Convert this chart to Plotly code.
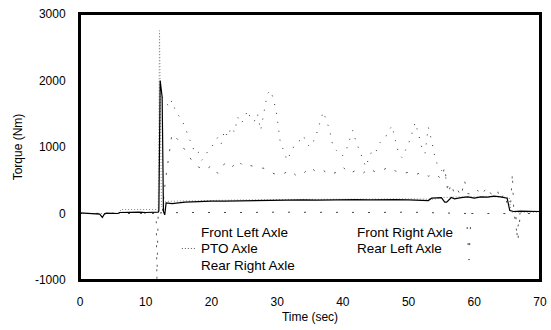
import plotly.graph_objects as go

# ---------------- data ----------------
fl_t = [0, 1, 2, 3, 3.4, 3.7, 4, 5, 5.8, 6, 7, 8, 9, 10, 11, 11.9, 12.0, 12.2, 12.5, 12.7, 12.9, 13.1,
        14, 15, 16, 17, 18, 20, 22, 24, 26, 28, 30, 32, 34, 36, 38, 40, 42, 44, 46, 48, 50, 52, 53,
        53.5, 55, 55.5, 55.8, 56.5, 57, 58, 59, 60, 61, 62, 63, 64, 65, 65.4, 66, 67, 68, 70]
fl_v = [10, 5, 0, -10, -60, -10, 5, 0, 0, 15, 20, 15, 20, 15, 20, 20, 40, 2000, 1750, 30, -20, 160,
        150, 165, 170, 175, 180, 185, 185, 190, 195, 195, 200, 200, 205, 200, 205, 210, 210, 205, 210,
        210, 205, 200, 195, 230, 240, 170, 170, 240, 220, 240, 250, 230, 250, 245, 260, 250, 230, 45,
        30, 35, 30, 30]

fr_t = [12.5, 13, 13.5, 14, 14.5, 15, 15.5, 16, 16.5, 17, 17.5, 18, 18.5, 19, 19.5, 20, 20.5, 21,
        21.5, 22, 22.5, 23, 23.5, 24, 24.5, 25, 25.5, 26, 26.5, 27, 27.5, 28, 28.5, 29, 29.5, 30,
        30.5, 31, 31.5, 32, 32.5, 33, 33.5, 34, 34.5, 35, 35.5, 36, 36.5, 37, 37.5, 38, 38.5, 39,
        39.5, 40, 40.5, 41, 41.5, 42, 42.5, 43, 43.5, 44, 44.5, 45, 45.5, 46, 46.5, 47, 47.5, 48,
        48.5, 49, 49.5, 50, 50.5, 51, 51.5, 52, 52.5, 53, 53.5, 54, 54.5, 55, 55.5, 56]
fr_v = [1750, 1700, 1600, 1700, 1550, 1480, 1400, 1300, 1150, 1050, 900, 920, 800, 850, 950, 1000,
        1080, 1150, 1050, 1250, 1150, 1300, 1220, 1450, 1350, 1430, 1550, 1420, 1380, 1500, 1250,
        1550, 1800, 1850, 1700, 1450, 1050, 950, 800, 900, 1000, 1070, 1100, 1170, 1050, 1000, 1080,
        1200, 1350, 1530, 1400, 1250, 1000, 950, 880, 870, 950, 1100, 1250, 1080, 950, 800, 700, 850,
        950, 920, 1050, 1100, 1150, 1250, 1320, 1100, 900, 840, 950, 1050, 1200, 1370, 1200, 1000,
        900, 1300, 1100, 850, 700, 650, 600, 400]

pto_t = [0, 6, 6.2, 11.6, 11.9, 12.1, 12.4, 13, 14, 16, 18, 20, 25, 30, 35, 40, 45, 50, 54, 55,
         58, 60, 62, 64, 65.3, 65.6, 70]
pto_v = [0, 0, 60, 60, 40, 2750, 100, 180, 185, 190, 195, 200, 205, 210, 215, 215, 220, 220, 215,
         240, 250, 250, 255, 250, 240, 20, 20]

rl_t = [0, 11.6, 11.7, 11.9, 12.5, 13, 14, 15, 16, 17, 18, 19, 20, 21, 22, 23, 24, 25, 26, 27,
        28, 29, 30, 31, 32, 33, 34, 35, 36, 37, 38, 39, 40, 41, 42, 43, 44, 45, 46, 47, 48, 49, 50,
        51, 52, 53, 54, 55, 55.5, 56, 56.5, 57, 57.5, 58, 58.5, 59, 60, 60.5, 61, 62, 62.5, 63,
        63.5, 64, 64.5, 65, 65.5, 65.8, 66, 66.5, 67, 70]
rl_v = [0, 0, -1000, 0, 0, 500, 1200, 1100, 950, 800, 700, 650, 720, 600, 750, 680, 800, 700,
        720, 690, 680, 620, 580, 600, 650, 560, 600, 700, 620, 650, 580, 620, 700, 600, 650, 600,
        680, 620, 650, 700, 640, 600, 620, 580, 620, 560, 600, 520, 700, 300, 450, 280, 350, 260,
        500, 300, 280, 350, 270, 400, 300, 280, 350, 200, 300, 150, 100, 600, 50, -300, 30, 30]

rr_t = [0, 12, 13, 16, 20, 25, 30, 35, 40, 45, 50, 55, 58.8, 59.2, 59.5, 62, 66.3, 66.6, 67, 70]
rr_v = [0, 0, 10, 15, 20, 15, 20, 15, 20, 15, 20, 15, 0, -700, 0, 0, 0, -450, 0, 0]

series_names = ["Front Left Axle", "Front Right Axle", "PTO Axle", "Rear Left Axle", "Rear Right Axle"]
x_ticks = [0, 10, 20, 30, 40, 50, 60, 70]
y_ticks = [-1000, 0, 1000, 2000, 3000]
y_tick_text = ["-1000", "0", "1000", "2000", "3000"]

# ---------------- figure ----------------
fig = go.Figure()
fig.add_trace(go.Scatter(x=pto_t, y=pto_v, mode="lines", name=series_names[2],
                         line=dict(color="#888888", width=1, dash="1px,2px")))
fig.add_trace(go.Scatter(x=fr_t, y=fr_v, mode="lines", name=series_names[1],
                         line=dict(color="#333333", width=1, dash="1px,8px")))
fig.add_trace(go.Scatter(x=rl_t, y=rl_v, mode="lines", name=series_names[3],
                         line=dict(color="#555555", width=1, dash="2px,10px")))
fig.add_trace(go.Scatter(x=rr_t, y=rr_v, mode="lines", name=series_names[4],
                         line=dict(color="#444444", width=1, dash="2px,14px")))
fig.add_trace(go.Scatter(x=fl_t, y=fl_v, mode="lines", name=series_names[0],
                         line=dict(color="black", width=1.2)))

font = dict(family="Liberation Sans, Arial, sans-serif", size=12, color="black")

# legend drawn as text inside the plot
leg_x = [18.1, 41.85, 18.1, 41.85, 18.1]
leg_y = [-286, -286, -526, -526, -782]
for i in range(len(series_names)):
    fig.add_annotation(x=leg_x[i], y=leg_y[i], text=series_names[i], showarrow=False,
                       xanchor="left", yanchor="middle", font=dict(font, size=13.5))
fig.add_shape(type="line", x0=15.5, x1=17.6, y0=-526, y1=-526,
              line=dict(color="#555555", width=1, dash="1px,2px"))

# plot frame
fig.add_shape(type="rect", xref="paper", yref="paper", x0=0, x1=1, y0=0, y1=1,
              line=dict(color="black", width=2), layer="above")

fig.update_layout(
    width=551, height=330,
    margin=dict(l=80, r=11, t=14, b=50, autoexpand=False),
    paper_bgcolor="white", plot_bgcolor="white",
    showlegend=False, font=font,
)
fig.update_xaxes(range=[0, 70], tickvals=x_ticks, showgrid=False, zeroline=False,
                 showline=True, linecolor="black", linewidth=2, mirror=True, ticks="",
                 ticklabelstandoff=10, automargin=False, ticklabeloverflow="allow",
                 title=dict(text="Time (sec)", standoff=4, font=dict(font, size=12)))
fig.update_yaxes(range=[-1000, 3000], tickvals=y_ticks, ticktext=y_tick_text,
                 showgrid=False, zeroline=False,
                 showline=True, linecolor="black", linewidth=2, mirror=True, ticks="",
                 ticklabelstandoff=10, automargin=False, ticklabeloverflow="allow",
                 title=dict(text="Torque (Nm)", standoff=10, font=dict(font, size=12)))

# remove the browser's default page margin so the figure fills the window exactly
fig.write_html("out.html", config={"displayModeBar": False},
               post_script="document.body.style.margin='0';document.body.style.overflow='hidden';")
